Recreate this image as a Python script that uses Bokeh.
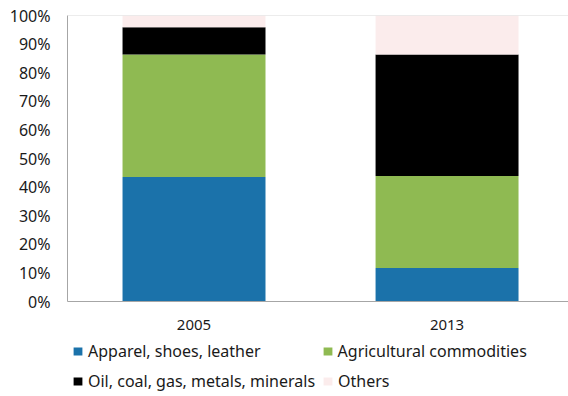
from bokeh.plotting import figure
from bokeh.layouts import column
from bokeh.models import (ColumnDataSource, Legend, LegendItem, FixedTicker,
                          PrintfTickFormatter, Range1d, Span)
from bokeh.embed import file_html
from bokeh.resources import INLINE

# ---- data (shares, %) ----
years = ["2005", "2013"]
apparel = [43.5, 11.7]
agricultural = [42.9, 32.2]
oil_minerals = [9.5, 42.5]
others = [4.1, 13.6]

series_names = ["Apparel, shoes, leather", "Agricultural commodities",
                "Oil, coal, gas, metals, minerals", "Others"]
series_keys = ["apparel", "agricultural", "oil", "others"]
colors = ["#1B72AA", "#8FBA52", "#000000", "#FBECEC"]
y_ticks = [0, 10, 20, 30, 40, 50, 60, 70, 80, 90, 100]

FONT = "Noto Sans"
TEXT_COLOR = "#1a1a1a"

xpos = list(range(len(years)))
source = ColumnDataSource(dict(x=xpos, apparel=apparel, agricultural=agricultural,
                               oil=oil_minerals, others=others))

# ---------------- main chart ----------------
p = figure(width=568, height=340, output_backend="svg", toolbar_location=None,
           x_range=Range1d(-0.5, 1.48), y_range=Range1d(0, 100),
           min_border_left=67, min_border_top=15, min_border_right=0,
           min_border_bottom=39)

renderers = p.vbar_stack(series_keys, x="x", width=0.565, color=colors,
                         line_color=None, source=source)

p.outline_line_color = None
p.xgrid.visible = False
p.ygrid.visible = False
p.border_fill_color = "white"

p.add_layout(Span(location=100, dimension="width", line_color="#D9D9D9", line_width=1))

p.yaxis.ticker = FixedTicker(ticks=y_ticks)
p.yaxis.formatter = PrintfTickFormatter(format="%d%%")
p.yaxis.major_tick_out = 0
p.yaxis.major_tick_in = 0
p.yaxis.minor_tick_out = 0
p.yaxis.minor_tick_in = 0
p.yaxis.axis_line_color = "#A6A6A6"
p.yaxis.major_label_standoff = 17
p.yaxis.major_label_text_font = FONT
p.yaxis.major_label_text_font_size = "16px"
p.yaxis.major_label_text_color = TEXT_COLOR

p.xaxis.ticker = FixedTicker(ticks=xpos)
p.xaxis.major_label_overrides = {i: y for i, y in zip(xpos, years)}
p.xaxis.major_tick_out = 0
p.xaxis.major_tick_in = 0
p.xaxis.minor_tick_out = 0
p.xaxis.minor_tick_in = 0
p.xaxis.axis_line_color = "#A6A6A6"
p.xaxis.major_label_standoff = 18
p.xaxis.major_label_text_font = FONT
p.xaxis.major_label_text_font_size = "15px"
p.xaxis.major_label_text_color = TEXT_COLOR

# ---------------- legend strip ----------------
pl = figure(width=568, height=56, output_backend="svg", toolbar_location=None,
            x_axis_type=None, y_axis_type=None,
            x_range=Range1d(-0.5, 1.48), y_range=Range1d(0, 100),
            min_border_left=0, min_border_right=0, min_border_top=0,
            min_border_bottom=0)
pl.outline_line_color = None
pl.grid.visible = False
pl.border_fill_color = "white"

# same stacked glyphs (hidden) so the legend can draw its swatches
leg_r = pl.vbar_stack(series_keys, x="x", width=0.565, color=colors,
                      line_color=None, source=source)
for r in leg_r:
    r.visible = False

common = dict(orientation="horizontal", margin=0, padding=0,
              glyph_width=11, glyph_height=10, label_standoff=5, label_height=20,
              label_text_font=FONT, label_text_font_size="16px",
              label_text_color=TEXT_COLOR, border_line_color=None,
              background_fill_alpha=0, inactive_fill_alpha=0)
legend1 = Legend(items=[LegendItem(label=series_names[0], renderers=[leg_r[0]]),
                        LegendItem(label=series_names[1], renderers=[leg_r[1]])],
                 location=(5, 34), spacing=61, **common)
legend2 = Legend(items=[LegendItem(label=series_names[2], renderers=[leg_r[2]]),
                        LegendItem(label=series_names[3], renderers=[leg_r[3]])],
                 location=(5, 4), spacing=7, **common)
pl.add_layout(legend1, "center")
pl.add_layout(legend2, "center")

layout = column(p, pl, spacing=0)
open("out.html", "w").write(file_html(layout, INLINE))
